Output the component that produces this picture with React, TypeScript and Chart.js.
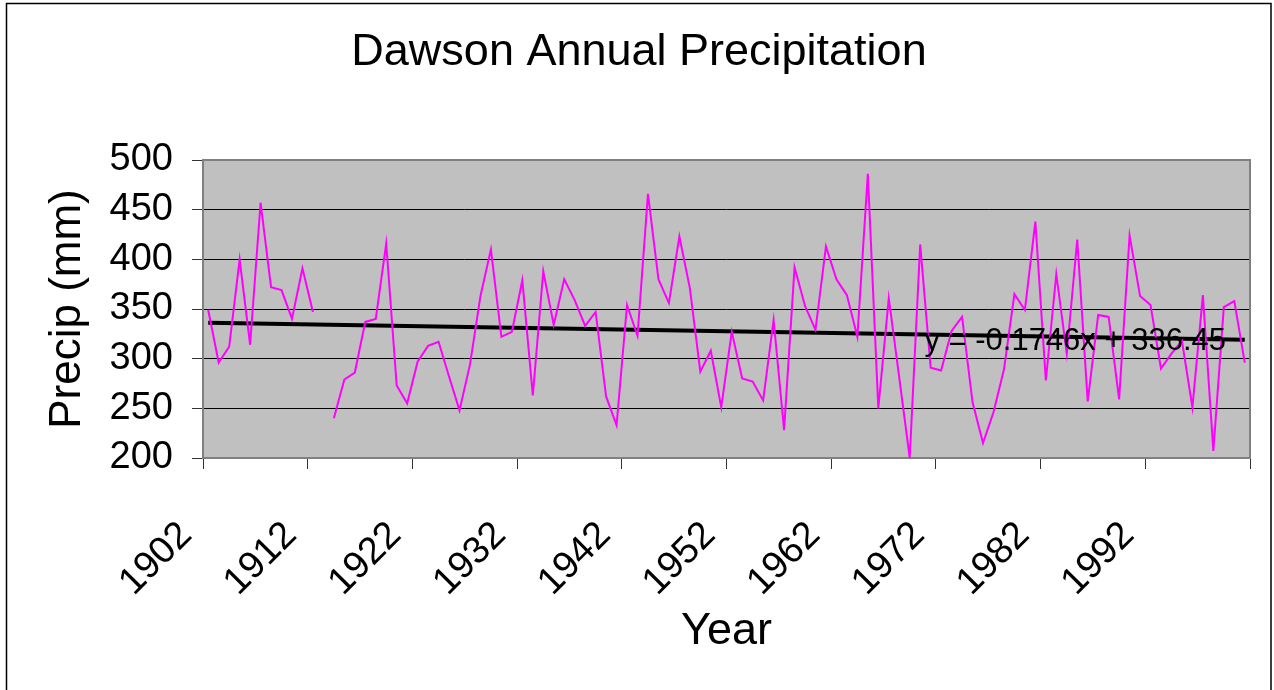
import React, { useEffect, useRef } from 'react';
import { Chart, registerables } from 'chart.js';

Chart.register(...registerables);

const TITLE = 'Dawson Annual Precipitation';
const X_TITLE = 'Year';
const Y_TITLE = 'Precip (mm)';

const YEARS: number[] = [
  1902, 1903, 1904, 1905, 1906, 1907, 1908, 1909, 1910, 1911,
  1912, 1913, 1914, 1915, 1916, 1917, 1918, 1919, 1920, 1921,
  1922, 1923, 1924, 1925, 1926, 1927, 1928, 1929, 1930, 1931,
  1932, 1933, 1934, 1935, 1936, 1937, 1938, 1939, 1940, 1941,
  1942, 1943, 1944, 1945, 1946, 1947, 1948, 1949, 1950, 1951,
  1952, 1953, 1954, 1955, 1956, 1957, 1958, 1959, 1960, 1961,
  1962, 1963, 1964, 1965, 1966, 1967, 1968, 1969, 1970, 1971,
  1972, 1973, 1974, 1975, 1976, 1977, 1978, 1979, 1980, 1981,
  1982, 1983, 1984, 1985, 1986, 1987, 1988, 1989, 1990, 1991,
  1992, 1993, 1994, 1995, 1996, 1997, 1998, 1999, 2000, 2001,
];

const PRECIP: (number | null)[] = [
  349, 296, 312, 400, 314, 457, 372, 369, 340, 391,
  347, null, 240, 279, 286, 337, 340, 416, 273, 255,
  297, 313, 317, 282, 248, 294, 363, 410, 322, 327,
  379, 263, 388, 334, 380, 359, 333, 347, 262, 233,
  354, 323, 466, 380, 356, 423, 371, 287, 308, 251,
  327, 280, 277, 258, 339, 228, 392, 353, 329, 413,
  380, 364, 322, 486, 250, 361, 281, 200, 415, 291,
  288, 328, 342, 256, 215, 246, 289, 365, 349, 438,
  278, 385, 305, 420, 257, 344, 342, 259, 424, 363,
  354, 290, 305, 318, 251, 364, 207, 352, 358, 296,
];

// Excel linear trendline: y = -0.1746x + 336.45 (x = 1..N)
const TREND_SLOPE = -0.1746;
const TREND_INTERCEPT = 336.45;
const TREND_LABEL = 'y = -0.1746x + 336.45';

const X_TICK_VALUES: number[] = [1901.5, 1911.5, 1921.5, 1931.5, 1941.5, 1951.5, 1961.5, 1971.5, 1981.5, 1991.5, 2001.5];
const X_TICK_LABELS: string[] = ['1902', '1912', '1922', '1932', '1942', '1952', '1962', '1972', '1982', '1992', ''];
const Y_TICKS: number[] = [200, 250, 300, 350, 400, 450, 500];

const FONT = "'Liberation Sans', Arial, Helvetica, sans-serif";

const framePlugin = {
  id: 'framePlugin',
  beforeDraw(chart: any) {
    const { ctx, chartArea: a } = chart;
    ctx.save();
    ctx.fillStyle = '#ffffff';
    ctx.fillRect(0, 0, chart.width, chart.height);
    ctx.strokeStyle = '#000000';
    ctx.lineWidth = 1.5;
    ctx.strokeRect(6.5, 3.5, 1264.5, 720);
    ctx.fillStyle = '#C0C0C0';
    ctx.fillRect(a.left, a.top, a.right - a.left, a.bottom - a.top);
    ctx.restore();
  },
  beforeDatasetsDraw(chart: any) {
    const { ctx, chartArea: a } = chart;
    ctx.save();
    ctx.strokeStyle = '#808080';
    ctx.lineWidth = 2;
    ctx.strokeRect(a.left, a.top, a.right - a.left, a.bottom - a.top);
    ctx.restore();
  },
  afterDatasetsDraw(chart: any) {
    const { ctx } = chart;
    const xs = chart.scales.x;
    const ys = chart.scales.y;
    ctx.save();
    ctx.fillStyle = '#000000';
    ctx.font = `31px ${FONT}`;
    ctx.textAlign = 'left';
    ctx.textBaseline = 'alphabetic';
    ctx.fillText(TREND_LABEL, xs.getPixelForValue(1970.4), ys.getPixelForValue(309));
    ctx.restore();
  },
};

export default function App() {
  const canvasRef = useRef<HTMLCanvasElement | null>(null);

  useEffect(() => {
    const canvas = canvasRef.current;
    if (!canvas) return;
    Chart.defaults.font.family = FONT;

    const seriesData = YEARS.map((yr, i) => ({ x: yr, y: PRECIP[i] }));
    const n = YEARS.length;
    const trendData = [
      { x: YEARS[0], y: TREND_SLOPE * 1 + TREND_INTERCEPT },
      { x: YEARS[n - 1], y: TREND_SLOPE * n + TREND_INTERCEPT },
    ];

    const chart = new Chart(canvas, {
      type: 'line',
      data: {
        datasets: [
          {
            label: 'Precip',
            data: seriesData as any,
            borderColor: '#FF00FF',
            borderWidth: 2,
            pointRadius: 0,
            tension: 0,
            spanGaps: false,
            fill: false,
          },
          {
            label: 'Trend',
            data: trendData as any,
            borderColor: '#000000',
            borderWidth: 4,
            pointRadius: 0,
            tension: 0,
            fill: false,
          },
        ],
      },
      options: {
        animation: false,
        responsive: false,
        devicePixelRatio: 1,
        layout: { padding: { left: 28, right: 24, top: 0, bottom: 0 } },
        plugins: {
          legend: { display: false },
          tooltip: { enabled: false },
          title: {
            display: true,
            text: TITLE,
            color: '#000000',
            font: { size: 45, weight: 'normal', family: FONT },
            padding: { top: 26, bottom: 80 },
          },
        },
        scales: {
          x: {
            type: 'linear',
            position: 'bottom',
            min: 1901.5,
            max: 2001.5,
            afterBuildTicks: (s: any) => {
              s.ticks = X_TICK_VALUES.map((v) => ({ value: v }));
            },
            afterFit: (s: any) => {
              s.height = 232;
              s.paddingLeft = 0;
              s.paddingRight = 0;
            },
            ticks: {
              autoSkip: false,
              minRotation: 45,
              maxRotation: 45,
              padding: 44,
              labelOffset: -17,
              color: '#000000',
              font: { size: 38, family: FONT },
              callback: (_v: any, i: number) => X_TICK_LABELS[i] ?? '',
            },
            grid: {
              drawOnChartArea: false,
              drawTicks: true,
              tickLength: 11,
              color: '#333333',
              tickColor: '#333333',
              lineWidth: 1,
            },
            border: { display: false },
            title: {
              display: true,
              text: X_TITLE,
              color: '#000000',
              font: { size: 45, family: FONT },
              padding: { top: 0, bottom: 31 },
            },
          },
          y: {
            type: 'linear',
            min: 200,
            max: 500,
            afterBuildTicks: (s: any) => {
              s.ticks = Y_TICKS.map((v) => ({ value: v }));
            },
            afterFit: (s: any) => {
              s.width = 175;
              s.paddingTop = 0;
              s.paddingBottom = 0;
            },
            ticks: {
              padding: 19,
              color: '#000000',
              font: { size: 38, family: FONT },
            },
            grid: {
              color: '#000000',
              tickColor: '#333333',
              tickLength: 11,
              lineWidth: 1,
            },
            border: { display: false },
            title: {
              display: true,
              text: Y_TITLE,
              color: '#000000',
              font: { size: 44, family: FONT },
              padding: { top: 13, bottom: 0 },
            },
          },
        },
      },
      plugins: [framePlugin],
    } as any);

    return () => {
      chart.destroy();
    };
  }, []);

  return (
    <div style={{ position: 'fixed', left: 0, top: 0, width: 1274, height: 690, background: '#fff' }}>
      <canvas ref={canvasRef} width={1274} height={690} style={{ display: 'block' }} />
    </div>
  );
}
